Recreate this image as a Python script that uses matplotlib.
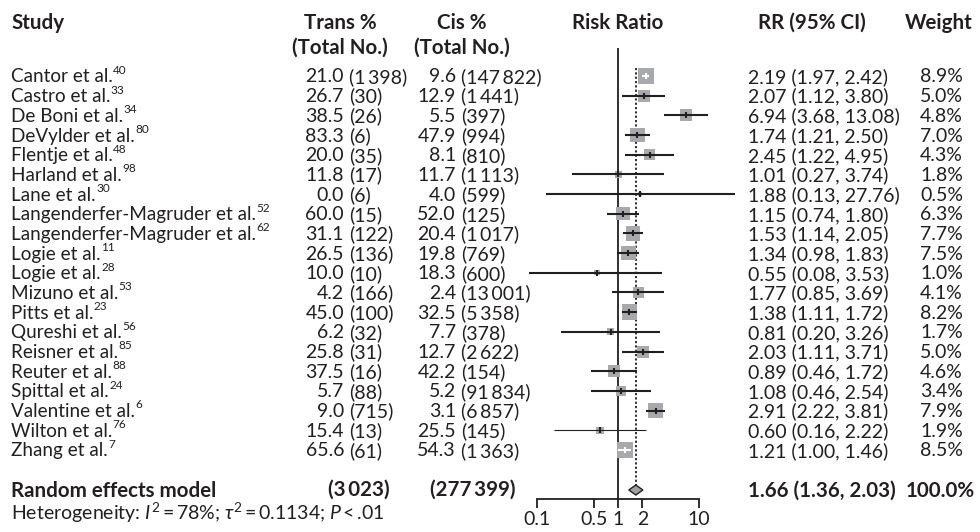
import numpy as np
import matplotlib
matplotlib.use("Agg")
import matplotlib.pyplot as plt
from matplotlib.patches import Polygon

plt.rcParams['font.family'] = ['Lato', 'DejaVu Sans']
plt.rcParams['mathtext.fontset'] = 'custom'
plt.rcParams['mathtext.rm'] = 'Lato'
plt.rcParams['mathtext.it'] = 'Lato:italic'
plt.rcParams['mathtext.bf'] = 'Lato:bold'

# Data
studies = ["Cantor et al.", "Castro et al.", "De Boni et al.", "DeVylder et al.",
           "Flentje et al.", "Harland et al.", "Lane et al.",
           "Langenderfer-Magruder et al.", "Langenderfer-Magruder et al.",
           "Logie et al.", "Logie et al.", "Mizuno et al.", "Pitts et al.",
           "Qureshi et al.", "Reisner et al.", "Reuter et al.", "Spittal et al.",
           "Valentine et al.", "Wilton et al.", "Zhang et al."]
refs = ["40", "33", "34", "80", "48", "98", "30", "52", "62", "11", "28", "53",
        "23", "56", "85", "88", "24", "6", "76", "7"]
trans_pct = ["21.0", "26.7", "38.5", "83.3", "20.0", "11.8", "0.0", "60.0", "31.1",
             "26.5", "10.0", "4.2", "45.0", "6.2", "25.8", "37.5", "5.7", "9.0",
             "15.4", "65.6"]
trans_n = ["1\u2009398", "30", "26", "6", "35", "17", "6", "15", "122", "136", "10",
           "166", "100", "32", "31", "16", "88", "715", "13", "61"]
cis_pct = ["9.6", "12.9", "5.5", "47.9", "8.1", "11.7", "4.0", "52.0", "20.4",
           "19.8", "18.3", "2.4", "32.5", "7.7", "12.7", "42.2", "5.2", "3.1",
           "25.5", "54.3"]
cis_n = ["147\u2009822", "1\u2009441", "397", "994", "810", "1\u2009113", "599", "125",
         "1\u2009017", "769", "600", "13\u2009001", "5\u2009358", "378", "2\u2009622",
         "154", "91\u2009834", "6\u2009857", "145", "1\u2009363"]
rr = np.array([2.19, 2.07, 6.94, 1.74, 2.45, 1.01, 1.88, 1.15, 1.53, 1.34, 0.55,
               1.77, 1.38, 0.81, 2.03, 0.89, 1.08, 2.91, 0.60, 1.21])
lo = np.array([1.97, 1.12, 3.68, 1.21, 1.22, 0.27, 0.13, 0.74, 1.14, 0.98, 0.08,
               0.85, 1.11, 0.20, 1.11, 0.46, 0.46, 2.22, 0.16, 1.00])
hi = np.array([2.42, 3.80, 13.08, 2.50, 4.95, 3.74, 27.76, 1.80, 2.05, 1.83, 3.53,
               3.69, 1.72, 3.26, 3.71, 1.72, 2.54, 3.81, 2.22, 1.46])
weight = np.array([8.9, 5.0, 4.8, 7.0, 4.3, 1.8, 0.5, 6.3, 7.7, 7.5, 1.0, 4.1, 8.2,
                   1.7, 5.0, 4.6, 3.4, 7.9, 1.9, 8.5])
pooled = (1.66, 1.36, 2.03)
pooled_weight = "100.0%"
total_trans = "(3\u2009023)"
total_cis = "(277\u2009399)"
het_text = (r"Heterogeneity: $\mathit{I}^2$" + "\u2009=\u200978%; " + r"$\tau^2$"
            + "\u2009=\u20090.1134; " + r"$\mathit{P}$" + "\u2009<\u2009.01")
xticks = [0.1, 0.5, 1, 2, 10]

W, H = 980, 532
fig = plt.figure(figsize=(W / 100, H / 100), dpi=100)
ax = fig.add_axes([0, 0, 1, 1])
ax.set_xlim(0, W)
ax.set_ylim(H, 0)
ax.axis('off')

fs_name = 13.6
fs_num = 14
fs_bold = 14.8
fs_sup = 8.5
col = '#231f20'
row_y = 76 + 19.68 * np.arange(len(studies))
y_pool = 490

# headers
hdr = dict(fontsize=fs_bold, fontweight='bold', va='center', color=col)
ax.text(11, 23, "Study", ha='left', **hdr)
ax.text(340, 23, "Trans %", ha='center', **hdr)
ax.text(340, 48, "(Total No.)", ha='center', **hdr)
ax.text(462, 23, "Cis %", ha='center', **hdr)
ax.text(462, 48, "(Total No.)", ha='center', **hdr)
ax.text(618, 23, "Risk Ratio", ha='center', **hdr)
ax.text(812, 23, "RR (95% CI)", ha='center', **hdr)
ax.text(973, 23, "Weight", ha='right', **hdr)

num = dict(fontsize=fs_num, va='center', color=col)
for i, y in enumerate(row_y):
    t = ax.text(11, y + 1, studies[i], fontsize=fs_name, ha='left', va='center', color=col)
    # reference number as a raised superscript right after the name
    ax.annotate(refs[i], xy=(1, 1), xycoords=t, xytext=(0.3, 2.6),
                textcoords='offset points', fontsize=fs_sup, ha='left', va='top',
                color=col)
    ax.text(344, y + 1, trans_pct[i], ha='right', **num)
    ax.text(349, y + 1, "(" + trans_n[i] + ")", ha='left', **num)
    ax.text(456, y + 1, cis_pct[i], ha='right', **num)
    ax.text(461, y + 1, "(" + cis_n[i] + ")", ha='left', **num)
    ax.text(748, y + 1, f"{rr[i]:.2f} ({lo[i]:.2f}, {hi[i]:.2f})", ha='left', **num)
    ax.text(963, y + 1, f"{weight[i]:.1f}%", ha='right', **num)

bold = dict(fontsize=fs_bold, fontweight='bold', va='center', color=col)
ax.text(11, y_pool + 1, "Random effects model", ha='left', **bold)
ax.text(390, y_pool, total_trans, ha='right', **bold)
ax.text(515, y_pool, total_cis, ha='right', **bold)
ax.text(748, y_pool + 1, f"{pooled[0]:.2f} ({pooled[1]:.2f}, {pooled[2]:.2f})", ha='left', **bold)
ax.text(975, y_pool + 1, pooled_weight, ha='right', **bold)
ax.text(11, 513, het_text, fontsize=fs_num, ha='left', va='center', color=col)

# forest panel: 0.1 at x=537px, 10 at x=699px
px_per_dec = 81.0
x0, x1 = 520, 745
fa = fig.add_axes([x0 / W, 0, (x1 - x0) / W, 1])
fa.set_xscale('log')
fa.set_xlim(10 ** (-1 - (537 - x0) / px_per_dec), 10 ** (1 + (x1 - 699) / px_per_dec))
fa.set_ylim(H, 0)
fa.patch.set_alpha(0)
for s in ['top', 'right', 'left']:
    fa.spines[s].set_visible(False)
fa.spines['bottom'].set_position(('data', 499))
fa.spines['bottom'].set_bounds(0.1, 10)
fa.spines['bottom'].set_linewidth(1.3)
fa.spines['bottom'].set_color(col)
fa.set_yticks([])
fa.set_xticks(xticks)
fa.set_xticklabels([f"{t:g}" for t in xticks])
fa.minorticks_off()
fa.tick_params(axis='x', direction='out', length=6.5, width=1.3, pad=2,
               labelsize=fs_num, colors=col)

fa.plot([1, 1], [48, 499], color=col, lw=1.3, solid_capstyle='butt')
fa.plot([pooled[0], pooled[0]], [68, 485], color=col, lw=1.3, ls=(0, (1.2, 1.2)))

side_px = 5.36 * np.sqrt(weight)
fa.scatter(rr, row_y, s=(side_px * 0.72) ** 2, marker='s', color='#a7a9ac',
           linewidths=0, zorder=2)
ci_px = (np.log10(hi) - np.log10(lo)) * px_per_dec
for i, y in enumerate(row_y):
    c = 'white' if ci_px[i] < side_px[i] else col
    lw = 0.8 if studies[i].startswith("Wilton") else 1.5
    fa.plot([lo[i], hi[i]], [y, y], color=c, lw=lw, solid_capstyle='butt',
            zorder=3, clip_on=False)
    fa.plot([rr[i]], [y], marker='|', ms=5, mew=1.5, color=c, zorder=4, clip_on=False)

dia = Polygon([[pooled[1], y_pool], [pooled[0], y_pool - 5], [pooled[2], y_pool],
               [pooled[0], y_pool + 5]], closed=True, facecolor='#a0a0a0',
              edgecolor=col, lw=1.0, zorder=4)
fa.add_patch(dia)

fig.savefig("out.png", dpi=100)
